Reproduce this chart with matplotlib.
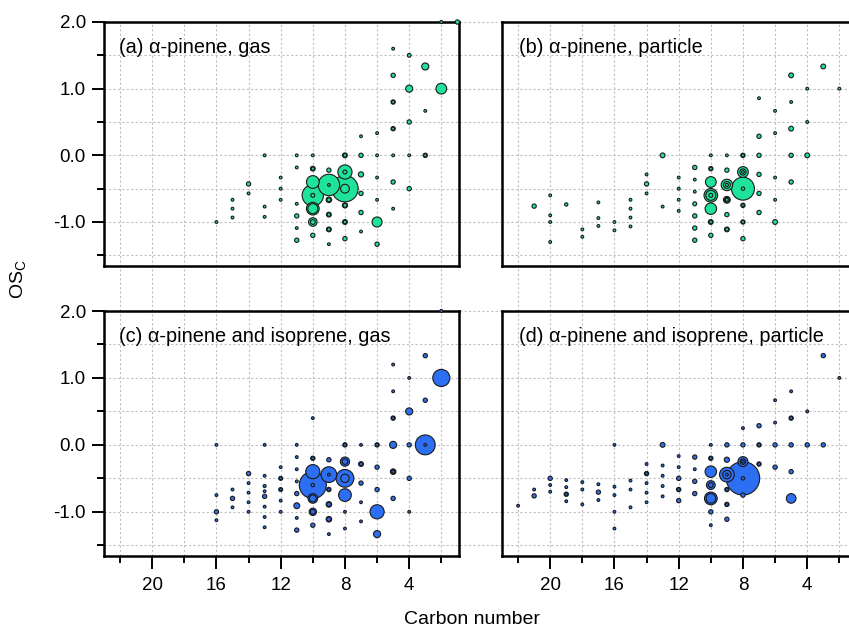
import matplotlib
matplotlib.use("Agg")
import matplotlib.pyplot as plt
import matplotlib.transforms as mtransforms
import numpy as np

plt.rcParams['font.family'] = ['Liberation Sans', 'DejaVu Sans']
plt.rcParams['axes.unicode_minus'] = False

# ---- data: carbon number, OSc, relative abundance (marker area) ----
# (a) alpha-pinene, gas
a_carbon = [16,
            15, 15, 15,
            14, 14,
            13, 13, 13,
            12, 12, 12,
            11, 11, 11, 11, 11, 11,
            10, 10, 10, 10, 10, 10, 10, 10, 10, 10, 10,
            9, 9, 9, 9, 9, 9, 9, 9, 9, 9,
            8, 8, 8, 8, 8, 8, 8, 8, 8, 8, 8,
            7, 7, 7, 7, 7, 7,
            6, 6, 6, 6, 6, 6,
            5, 5, 5, 5, 5, 5, 5, 5, 5,
            4, 4, 4, 4, 4,
            3, 3, 3, 3,
            2, 2,
            1]
a_osc = [-1.0,
         -0.667, -0.8, -0.933,
         -0.429, -0.571,
         0.0, -0.769, -0.923,
         -0.333, -0.5, -0.667,
         0.0, -0.182, -0.727, -0.909, -1.091, -1.273,
         0.0, -0.2, -0.2, -0.4, -0.6, -0.6, -0.8, -0.8, -1.0, -1.0, -1.2,
         -0.222, -0.444, -0.444, -0.667, -0.667, -0.889, -0.889, -1.111, -1.111, -1.333,
         0.0, 0.0, -0.25, -0.25, -0.5, -0.5, -0.75, -0.75, -1.0, -1.0, -1.25,
         0.286, 0.0, -0.286, -0.571, -0.857, -1.143,
         0.333, 0.0, -0.333, -0.667, -1.0, -1.333,
         1.6, 1.2, 0.8, 0.8, 0.4, 0.4, 0.0, -0.4, -0.8,
         1.5, 1.0, 0.5, 0.0, -0.5,
         1.333, 0.667, 0.0, 0.0,
         2.0, 1.0,
         2.0]
a_abund = [1,
           1, 1, 1,
           2.4, 1,
           1, 1, 1,
           1, 1, 1,
           1, 1, 1, 2.4, 1, 2.4,
           1, 3, 1.3, 21, 59, 2, 21, 13, 9.5, 3, 2.4,
           2.4, 59, 1, 4, 2, 3, 1.5, 3, 1.5, 1,
           3, 1.5, 26, 2, 90, 10, 3.5, 1.8, 3, 1.5, 2.4,
           1, 2.4, 3.5, 2.4, 2.4, 1,
           1, 1, 1, 1, 13, 2.4,
           1, 2.4, 2.4, 1.2, 2.4, 1.2, 1, 2.4, 1,
           1.8, 6.5, 2.4, 1, 2.4,
           6.5, 1, 2.4, 1.2,
           1.2, 15,
           2.4]

# (b) alpha-pinene, particle
b_carbon = [21,
            20, 20, 20, 20,
            19,
            18, 18,
            17, 17, 17,
            16, 16,
            15, 15, 15, 15,
            14, 14, 14,
            13, 13,
            12, 12, 12, 12,
            11, 11, 11, 11, 11, 11, 11,
            10, 10, 10, 10, 10, 10, 10, 10, 10, 10, 10,
            9, 9, 9, 9, 9, 9, 9, 9, 9, 9, 9,
            8, 8, 8, 8, 8, 8, 8, 8, 8, 8, 8, 8,
            7, 7, 7, 7, 7, 7,
            6, 6, 6, 6, 6,
            5, 5, 5, 5, 5,
            4, 4, 4,
            3,
            2]
b_osc = [-0.762,
         -0.6, -0.9, -1.0, -1.3,
         -0.737,
         -1.111, -1.222,
         -0.706, -0.941, -1.059,
         -1.0, -1.125,
         -0.667, -0.8, -0.933, -1.067,
         -0.286, -0.429, -0.571,
         0.0, -0.769,
         -0.333, -0.5, -0.667, -0.833,
         -0.182, -0.364, -0.545, -0.727, -0.909, -1.091, -1.273,
         0.0, -0.2, -0.2, -0.4, -0.6, -0.6, -0.6, -0.8, -1.0, -1.0, -1.2,
         0.0, -0.222, -0.444, -0.444, -0.444, -0.667, -0.667, -0.667, -0.889, -1.111, -1.111,
         0.0, 0.0, -0.25, -0.25, -0.25, -0.5, -0.5, -0.75, -0.75, -1.0, -1.0, -1.25,
         0.857, 0.286, 0.0, -0.286, -0.571, -0.857,
         0.667, 0.333, -0.333, -0.667, -1.0,
         1.2, 0.8, 0.4, 0.0, -0.4,
         1.0, 0.5, 0.0,
         1.333,
         1.0]
b_abund = [2.4,
           1, 1, 1, 1,
           1.4,
           1, 1,
           1, 1, 1,
           1, 1,
           1, 1, 1, 1,
           1, 2.4, 1,
           3, 1,
           1, 1, 1, 1,
           2.4, 1, 1, 2, 2.4, 2.4, 2.4,
           1, 2.4, 1.2, 15, 24, 13, 2, 17, 3, 1.3, 2.4,
           1, 2.4, 17, 6, 1.2, 6, 3, 1.2, 2.4, 3, 1.5,
           2.4, 1.2, 15, 5, 1, 68, 1.5, 2.4, 1, 2.4, 1.2, 2.4,
           1, 2.4, 2.4, 2.4, 2.4, 2.4,
           1, 1, 1, 1, 3,
           3, 1, 3, 2.4, 2.4,
           1, 1, 3,
           3,
           1]

# (c) alpha-pinene and isoprene, gas
c_carbon = [16, 16, 16, 16,
            15, 15, 15,
            14, 14, 14, 14, 14,
            13, 13, 13, 13, 13, 13, 13, 13,
            12, 12, 12, 12, 12, 12, 12,
            11, 11, 11, 11, 11, 11, 11, 11,
            10, 10, 10, 10, 10, 10, 10, 10, 10, 10, 10,
            9, 9, 9, 9, 9, 9, 9, 9, 9, 9,
            8, 8, 8, 8, 8, 8, 8, 8, 8,
            7, 7, 7, 7, 7, 7,
            6, 6, 6, 6, 6, 6,
            5, 5, 5, 5, 5, 5, 5, 5, 5,
            4, 4, 4, 4, 4,
            3, 3, 3, 3,
            2, 2]
c_osc = [0.0, -0.75, -1.0, -1.125,
         -0.667, -0.8, -0.933,
         -0.429, -0.571, -0.714, -0.857, -1.0,
         0.0, -0.462, -0.615, -0.692, -0.769, -0.923, -1.077, -1.231,
         -0.333, -0.5, -0.5, -0.667, -0.667, -0.833, -1.0,
         0.0, -0.182, -0.364, -0.545, -0.727, -0.909, -1.091, -1.273,
         0.4, -0.2, -0.2, -0.4, -0.6, -0.6, -0.8, -0.8, -1.0, -1.0, -1.2,
         -0.222, -0.444, -0.444, -0.667, -0.667, -0.889, -0.889, -1.111, -1.111, -1.333,
         0.0, 0.0, -0.25, -0.25, -0.5, -0.5, -0.75, -1.0, -1.25,
         0.0, -0.286, -0.286, -0.571, -0.857, -1.143,
         0.0, 0.0, -0.333, -0.667, -1.0, -1.333,
         1.2, 0.8, 0.4, 0.4, 0.0, -0.4, -0.4, -0.4, -0.8,
         1.0, 0.5, 0.0, -0.5, -1.0,
         1.333, 0.667, 0.0, 0.0,
         2.0, 1.0]
c_abund = [1, 1, 2.4, 1,
           1, 2.4, 1,
           2.4, 1, 1, 1, 1,
           1, 1, 1.2, 1, 2.4, 1, 1, 1,
           1, 2, 1, 2, 1, 1, 1,
           1, 1, 1, 1, 2.4, 4.5, 1, 2.4,
           1, 2.4, 1.2, 26, 95, 1.5, 12, 6, 7, 3, 2.4,
           2.4, 32, 1, 2.4, 1.2, 4, 2.4, 4, 2.4, 1,
           2.4, 1.2, 11, 4, 41, 9, 21, 1, 1,
           1, 3, 1.5, 2.4, 1, 1,
           2.4, 1.2, 2.4, 2.4, 26, 6.5,
           1, 1, 2.4, 1.2, 6.5, 4, 2.4, 1.2, 2.4,
           1, 6.5, 2.4, 2.4, 1,
           2.4, 2.4, 51, 1,
           1.2, 38]

# (d) alpha-pinene and isoprene, particle
d_carbon = [22,
            21, 21,
            20, 20, 20,
            19, 19, 19, 19, 19,
            18, 18, 18,
            17, 17, 17,
            16, 16, 16, 16, 16,
            15, 15, 15,
            14, 14, 14, 14, 14, 14,
            13, 13, 13, 13, 13,
            12, 12, 12, 12, 12, 12,
            11, 11, 11, 11,
            10, 10, 10, 10, 10, 10, 10, 10, 10, 10,
            9, 9, 9, 9, 9, 9, 9, 9, 9, 9,
            8, 8, 8, 8, 8, 8, 8, 8,
            7, 7, 7, 7, 7,
            6, 6, 6, 6,
            5, 5, 5, 5, 5, 5,
            4, 4,
            3, 3,
            2]
d_osc = [-0.909,
         -0.667, -0.762,
         -0.5, -0.6, -0.7,
         -0.526, -0.632, -0.737, -0.737, -0.842,
         -0.556, -0.667, -0.889,
         -0.588, -0.706, -0.824,
         0.0, -0.625, -0.75, -1.0, -1.25,
         -0.533, -0.667, -0.933,
         -0.286, -0.429, -0.429, -0.571, -0.714, -0.857,
         0.0, -0.308, -0.462, -0.615, -0.769,
         -0.167, -0.333, -0.5, -0.667, -0.667, -0.833,
         -0.182, -0.364, -0.545, -0.727,
         0.0, -0.2, -0.2, -0.4, -0.6, -0.6, -0.8, -0.8, -1.0, -1.2,
         0.0, -0.222, -0.444, -0.444, -0.444, -0.667, -0.667, -0.889, -0.889, -1.111,
         0.25, 0.0, -0.25, -0.25, -0.25, -0.5, -0.5, -0.75,
         0.286, 0.0, 0.0, -0.286, -0.286,
         0.667, 0.333, 0.0, -0.333,
         0.8, 0.4, 0.4, 0.0, -0.4, -0.8,
         0.5, 0.0,
         1.333, 0.0,
         1.0]
d_abund = [1,
           1, 2.4,
           2.4, 1, 1,
           1, 1, 2.4, 1, 1,
           1, 1, 1,
           1, 2.4, 1,
           1, 1, 1, 1, 1,
           1, 1, 1,
           1, 2.4, 1.2, 1, 1, 1,
           3, 1, 1, 1, 1,
           1, 1, 2.4, 2.4, 1.2, 2.4,
           2.4, 1, 2.4, 2.4,
           1, 2.4, 1.2, 17, 10, 3, 21, 12, 2.4, 1,
           2.4, 3.5, 28, 9, 1, 2.4, 1.2, 2.4, 1.2, 2.4,
           1, 2.4, 13, 4, 1, 145, 1.5, 2.4,
           2.4, 2.4, 1.2, 2.4, 1.2,
           1, 1, 2.4, 2.4,
           1, 2.4, 1.2, 2.4, 2.4, 12,
           1, 2.4,
           2.4, 2.4,
           1]

titles = ['(a) \u03b1-pinene, gas', '(b) \u03b1-pinene, particle',
          '(c) \u03b1-pinene and isoprene, gas', '(d) \u03b1-pinene and isoprene, particle']
green = '#1fe39b'
blue = '#2d6ff2'
x_major = [20, 16, 12, 8, 4]
x_minor = [22, 18, 14, 10, 6, 2]
y_major = [-1.0, 0.0, 1.0, 2.0]
y_minor = [-1.5, -0.5, 0.5, 1.5]
grid_y = [2.0, 1.5, 1.0, 0.5, 0.0, -0.5, -1.0, -1.5]
grid_x = [22, 20, 18, 16, 14, 12, 10, 8, 6, 4, 2]

W, H = 849, 629
fig = plt.figure(figsize=(W / 100, H / 100), dpi=100)


def px_box(x0, y0, x1, y1):
    return [x0 / W, 1 - y1 / H, (x1 - x0) / W, (y1 - y0) / H]


boxes = [(104, 22, 459, 266), (502, 22, 857, 266),
         (104, 311, 459, 556), (502, 311, 857, 556)]
panels = [(a_carbon, a_osc, a_abund, green), (b_carbon, b_osc, b_abund, green),
          (c_carbon, c_osc, c_abund, blue), (d_carbon, d_osc, d_abund, blue)]

for i, (box, (cx, oy, ab, col)) in enumerate(zip(boxes, panels)):
    ax = fig.add_axes(px_box(*box))
    ax.set_autoscale_on(False)
    ax.set_xlim(23, 0.9)
    ax.set_ylim(-1.66, 2.0)
    left = i % 2 == 0
    top = i < 2

    # dotted grid that runs on across the gaps between panels
    x_ext = (502 - 104) / 355 if left else 1.0
    y_ext = -45 / 244 if top else 0.0
    th = mtransforms.blended_transform_factory(ax.transAxes, ax.transData)
    tv = mtransforms.blended_transform_factory(ax.transData, ax.transAxes)
    for gy in grid_y:
        ax.plot([0, x_ext], [gy, gy], transform=th, color='#c0c0c0', lw=0.8,
                ls=(0, (2, 2)), clip_on=False, zorder=0.5)
    for gx in grid_x:
        ax.plot([gx, gx], [y_ext, 1], transform=tv, color='#c0c0c0', lw=0.8,
                ls=(0, (2, 2)), clip_on=False, zorder=0.5)

    cx = np.array(cx, dtype=float)
    oy = np.array(oy, dtype=float)
    ab = np.array(ab, dtype=float)
    order = np.argsort(-ab, kind='stable')
    ax.scatter(cx[order], oy[order], s=4.0 * ab[order], facecolor=col,
               edgecolor='#1a1a1a', linewidth=0.8, zorder=3, clip_on=False)

    for sp in ax.spines.values():
        sp.set_linewidth(1.8)

    if left:
        ax.set_yticks(y_major)
        ax.set_yticklabels(['-1.0', '0.0', '1.0', '2.0'])
        ax.set_yticks(y_minor, minor=True)
    else:
        ax.set_yticks([])
    if not top:
        ax.set_xticks(x_major)
        ax.set_xticklabels([str(v) for v in x_major])
        ax.set_xticks(x_minor, minor=True)
    else:
        ax.set_xticks([])
    ax.tick_params(which='major', direction='out', length=9, width=1.4, labelsize=13.5)
    ax.tick_params(axis='y', which='major', pad=4)
    ax.tick_params(axis='x', which='major', pad=6)
    ax.tick_params(which='minor', direction='out', length=5, width=1.4)

    tx = 15 / 355 if left else 17 / 355
    ax.text(tx, 0.895, titles[i], transform=ax.transAxes, fontsize=14.3,
            ha='left', va='center', zorder=4)

fig.text(19 / W, 1 - 279 / H, r'OS$_\mathregular{C}$', rotation=90,
         ha='center', va='center', fontsize=14)
fig.text(472 / W, 1 - 619 / H, 'Carbon number', ha='center', va='center',
         fontsize=14)

fig.savefig('out.png', dpi=100)
